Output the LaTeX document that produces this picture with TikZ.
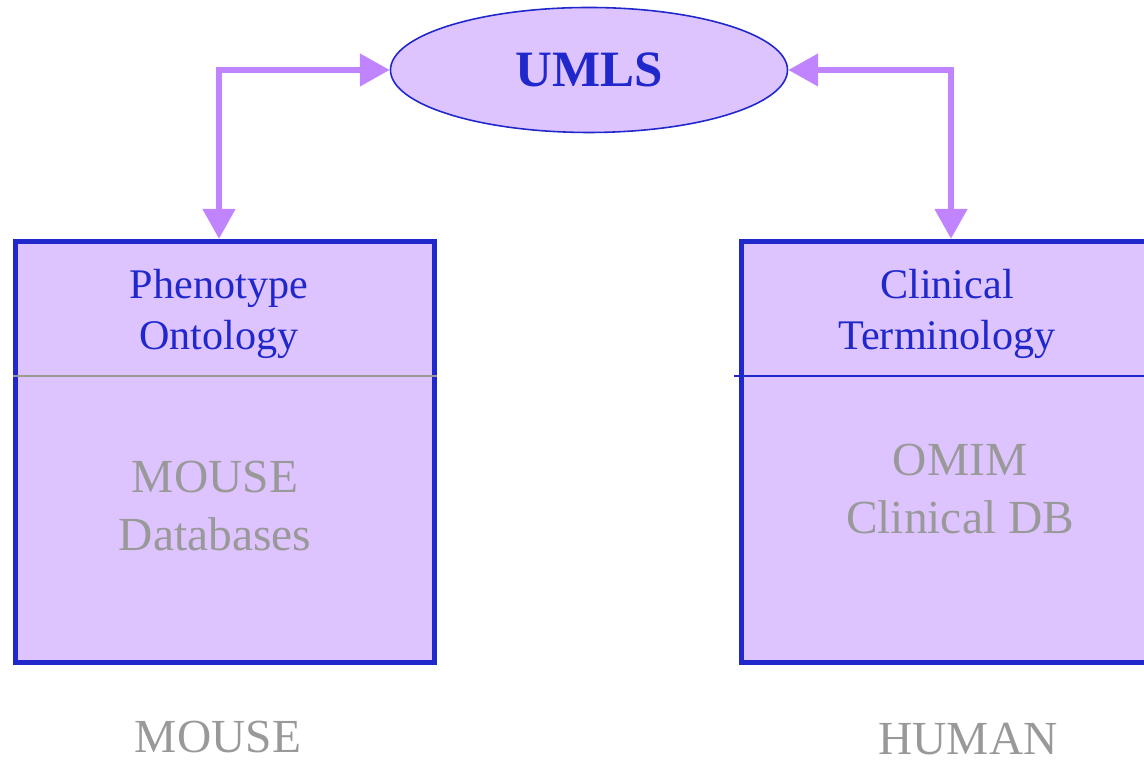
\documentclass[tikz,border=0pt]{standalone}
\usepackage{fontspec}
\setmainfont{Liberation Serif}
\usetikzlibrary{arrows.meta}
\usetikzlibrary{shapes}
\usetikzlibrary{positioning}

\definecolor{lavande}{RGB}{222,196,255}
\definecolor{bleu}{RGB}{32,40,204}
\definecolor{violet}{RGB}{192,132,255}
\definecolor{gris}{RGB}{153,153,153}

\tikzset{
  boite/.style={draw=bleu,fill=lavande,line width=3pt,minimum width=8.38cm,minimum height=8.42cm},
  titre/.style={text=bleu,align=center,font=\fontsize{24}{29}\selectfont},
  base/.style={text=gris,align=center,font=\fontsize{27}{33}\selectfont},
  espece/.style={text=gris,inner sep=0pt,font=\fontsize{27}{33}\selectfont},
  lien/.style={violet,line width=3.3pt,{Triangle[length=17pt,width=18pt]}-{Triangle[length=17pt,width=18pt]}}
}

\begin{document}
\begin{tikzpicture}
\useasboundingbox (0,0) rectangle (22.88,15.28);

% UMLS
\node[ellipse,draw=bleu,fill=lavande,line width=0.9pt,minimum width=7.94cm,minimum height=2.5cm,text=bleu,font=\bfseries\fontsize{29}{34}\selectfont] (umls) at (11.78,13.88) {UMLS};

% Les boites
\node[boite] (mouse) at (4.5,6.24) {};
\node[boite] (human) at (19.02,6.24) {};
\draw[gris,line width=0.9pt] ([yshift=-2.74cm]mouse.north west) -- ([yshift=-2.74cm]mouse.north east);
\draw[bleu,line width=0.9pt] ([xshift=-0.1cm,yshift=-2.74cm]human.north west) -- ([yshift=-2.74cm]human.north east);

% Textes
\node[titre] (pheno) at (4.38,9.0) {Phenotype\\Ontology};
\node[titre] (clin) at (18.94,9.0) {Clinical\\Terminology};
\node[base] (mousedb) at (4.3,5.16) {MOUSE\\Databases};
\node[base] (omim) at (19.2,5.5) {OMIM\\Clinical DB};
\node[espece] (mouselbl) at (4.36,0.53) {MOUSE};
\node[espece] (humanlbl) at (19.36,0.5) {HUMAN};

% Fleches
\draw[lien] ([xshift=-0.12cm]mouse.north) |- (umls.west);
\draw[lien] (umls.east) -| (human.north);
\end{tikzpicture}
\end{document}
